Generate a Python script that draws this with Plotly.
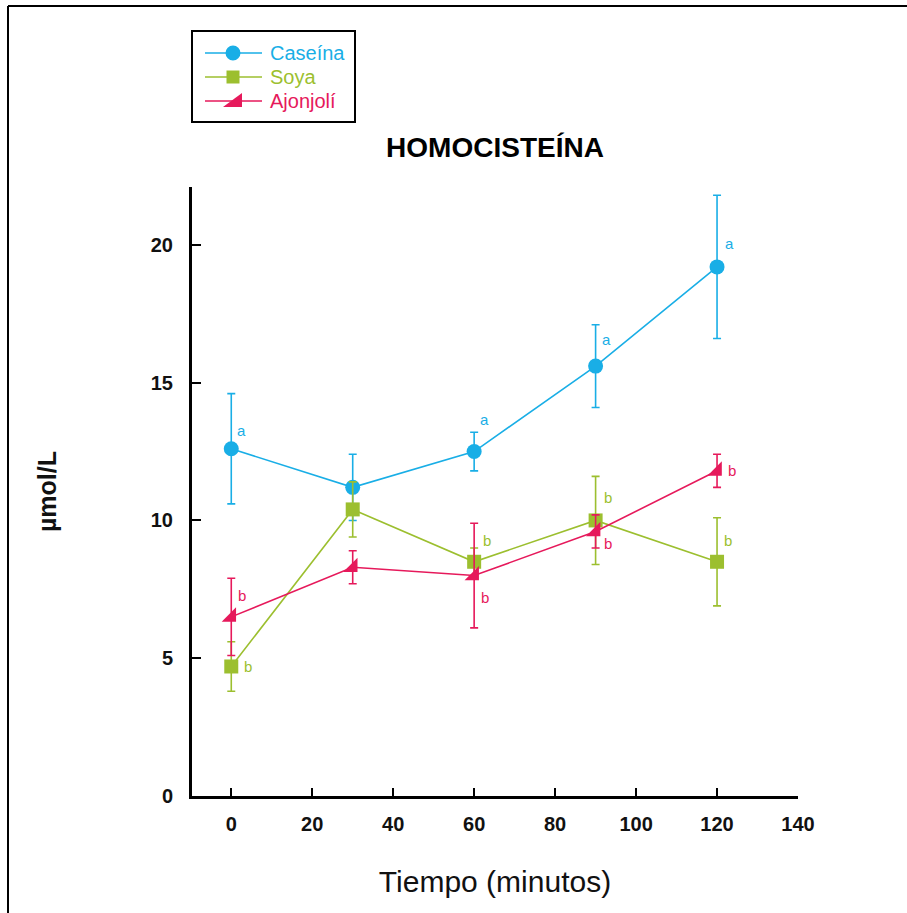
import plotly.graph_objects as go

# Time points (minutes)
tiempo = [0, 30, 60, 90, 120]

# Mean homocysteine (µmol/L) and standard error per diet
caseina = [12.6, 11.2, 12.5, 15.6, 19.2]
caseina_err = [2.0, 1.2, 0.7, 1.5, 2.6]
soya = [4.7, 10.4, 8.5, 10.0, 8.5]
soya_err = [0.9, 1.0, 0.5, 1.6, 1.6]
ajonjoli = [6.5, 8.3, 8.0, 9.6, 11.8]
ajonjoli_err = [1.4, 0.6, 1.9, 0.6, 0.6]

# Significance letters per point ('' = none)
caseina_letras = ["a", "", "a", "a", "a"]
soya_letras = ["b", "", "b", "b", "b"]
ajonjoli_letras = ["b", "", "b", "b", "b"]

series_nombres = ["Caseína", "Soya", "Ajonjolí"]

x_ticks = [0, 20, 40, 60, 80, 100, 120, 140]
y_ticks = [0, 5, 10, 15, 20]

# Colours
C_CAS = "#19AEE6"
C_SOY = "#9CBF2F"
C_AJO = "#E6195B"

# Pixel offsets of the letters from their point (xshift, yshift)
cas_shift = [(10, 18), None, (10, 32), (11, 27), (12, 23)]
soy_shift = [(17, 0), None, (13, 21), (12, 23), (11, 21)]
ajo_shift = [(11, 21), None, (11, -22), (12, -12), (15, 0)]

W, H = 907, 913
ML, MR, MT, MB = 192, 109, 187, 117
PW, PH = W - ML - MR, H - MT - MB
FONT = "Liberation Sans, Arial, sans-serif"


def px_to_paper(px, py):
    return (px - ML) / PW, (H - MB - py) / PH


def serie(nombre, y, err, color, simbolo, tam):
    return go.Scatter(
        x=tiempo, y=y,
        mode="lines+markers",
        name=nombre,
        showlegend=False,
        line=dict(color=color, width=1.6),
        marker=dict(symbol=simbolo, size=tam, color=color, line=dict(width=0)),
        error_y=dict(type="data", array=err, visible=True,
                     color=color, thickness=1.6, width=4),
    )


fig = go.Figure()
fig.add_trace(serie(series_nombres[0], caseina, caseina_err, C_CAS, "circle", 15))
fig.add_trace(serie(series_nombres[1], soya, soya_err, C_SOY, "square", 14))
fig.add_trace(serie(series_nombres[2], ajonjoli, ajonjoli_err, C_AJO, "triangle-se", 16))

# Letters next to the points
for ys, letras, shifts, color in [
    (caseina, caseina_letras, cas_shift, C_CAS),
    (soya, soya_letras, soy_shift, C_SOY),
    (ajonjoli, ajonjoli_letras, ajo_shift, C_AJO),
]:
    for xv, yv, letra, sh in zip(tiempo, ys, letras, shifts):
        if not letra:
            continue
        fig.add_annotation(
            x=xv, y=yv, text=letra, showarrow=False,
            xshift=sh[0], yshift=sh[1],
            font=dict(family=FONT, size=15, color=color),
        )


def paper_line(px0, py0, px1, py1, color, width):
    a, b = px_to_paper(px0, py0)
    c, d = px_to_paper(px1, py1)
    fig.add_shape(type="line", xref="paper", yref="paper",
                  x0=a, y0=b, x1=c, y1=d, line=dict(color=color, width=width))


def paper_shape(kind, px0, py0, px1, py1, color):
    a, b = px_to_paper(px0, py0)
    c, d = px_to_paper(px1, py1)
    fig.add_shape(type=kind, xref="paper", yref="paper",
                  x0=a, y0=d, x1=c, y1=b, fillcolor=color,
                  line=dict(width=0))


# Outer frame (top and left edges)
paper_line(8, 6, W + 5, 6, "black", 2)
paper_line(8, 6, 8, H + 5, "black", 2)

# Legend box with its three entries
bx0, by0 = px_to_paper(192, 31)
bx1, by1 = px_to_paper(355, 122)
fig.add_shape(type="rect", xref="paper", yref="paper",
              x0=bx0, y0=by1, x1=bx1, y1=by0,
              line=dict(color="black", width=2), fillcolor="white")

filas = [53, 77, 101]
colores = [C_CAS, C_SOY, C_AJO]
for nombre, fy, col in zip(series_nombres, filas, colores):
    paper_line(205, fy, 262, fy, col, 1.6)
    tx, ty = px_to_paper(268, fy)
    fig.add_annotation(x=tx, y=ty, xref="paper", yref="paper",
                       text=nombre, showarrow=False,
                       xanchor="left", yanchor="middle",
                       font=dict(family=FONT, size=20, color=col))

cx = 233
paper_shape("circle", cx - 7.5, filas[0] - 7.5, cx + 7.5, filas[0] + 7.5, C_CAS)
paper_shape("rect", cx - 6.5, filas[1] - 6.5, cx + 6.5, filas[1] + 6.5, C_SOY)
# right triangle, right angle at the bottom-right corner
p1 = px_to_paper(cx - 10, filas[2] + 6)
p2 = px_to_paper(cx + 9, filas[2] + 6)
p3 = px_to_paper(cx + 9, filas[2] - 8)
fig.add_shape(type="path", xref="paper", yref="paper",
              path=f"M {p1[0]},{p1[1]} L {p2[0]},{p2[1]} L {p3[0]},{p3[1]} Z",
              fillcolor=C_AJO, line=dict(width=0))

fig.update_layout(
    width=W, height=H,
    margin=dict(l=ML, r=MR, t=MT, b=MB),
    paper_bgcolor="white", plot_bgcolor="white",
    font=dict(family=FONT, color="black"),
    title=dict(
        text="<b>HOMOCISTEÍNA</b>",
        font=dict(family=FONT, size=28, color="black"),
        x=0.5, xref="paper", xanchor="center",
        y=1 - 147 / H, yref="container", yanchor="middle",
    ),
    showlegend=False,
    xaxis=dict(
        range=[-9.7, 140], tickvals=x_ticks,
        showline=True, linecolor="black", linewidth=3,
        ticks="inside", ticklen=8, tickwidth=2, tickcolor="black",
        showgrid=False, zeroline=False,
        tickfont=dict(family=FONT, size=20, color="#111", weight="bold"),
        ticklabelstandoff=8,
        title=dict(text="Tiempo (minutos)", standoff=37,
                   font=dict(family=FONT, size=30, color="#111")),
    ),
    yaxis=dict(
        range=[0, 22.1], tickvals=y_ticks,
        showline=True, linecolor="black", linewidth=3,
        ticks="inside", ticklen=9, tickwidth=2, tickcolor="black",
        showgrid=False, zeroline=False,
        tickfont=dict(family=FONT, size=20, color="#111", weight="bold"),
        ticklabelstandoff=12,
        title=dict(text="<b>µmol/L</b>", standoff=88,
                   font=dict(family=FONT, size=25, color="#111")),
    ),
)

fig.write_html("out.html")
